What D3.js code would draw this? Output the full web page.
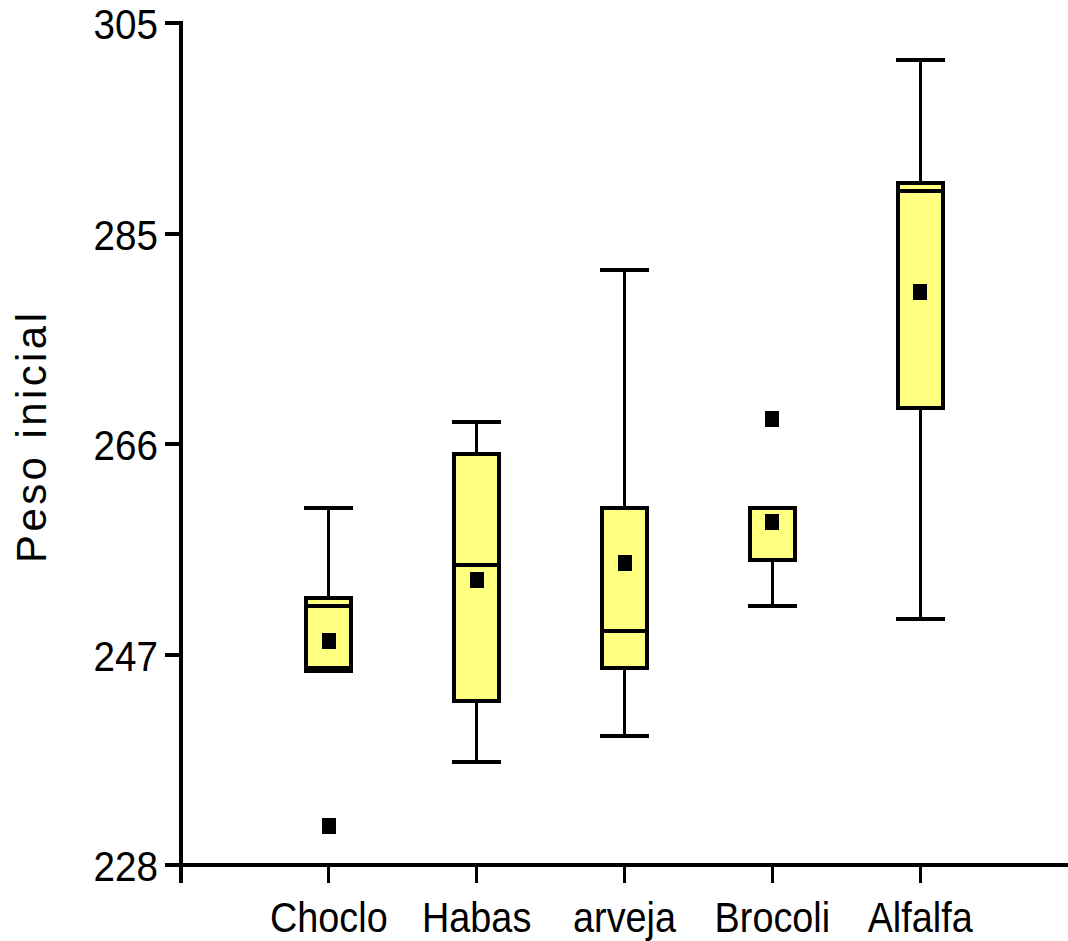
<!DOCTYPE html>
<html>
<head>
<meta charset="utf-8">
<script src="https://cdn.jsdelivr.net/npm/d3@7"></script>
<style>
  html, body { margin: 0; padding: 0; background: #fff; }
  svg { display: block; }
  text { font-family: "Liberation Sans", Arial, sans-serif; fill: #000; }
  line, rect { shape-rendering: crispEdges; }
</style>
</head>
<body>
<svg id="chart" width="1068" height="941"></svg>
<script>
// Box plot summary per crop: whisker ends, quartiles, median, mean, outliers
const categories = ["Choclo", "Habas", "arveja", "Brocoli", "Alfalfa"];
const whiskerHigh = [260.65, 268.5, 282.4, 260.65, 301.6];
const q3Values    = [252.4, 265.55, 260.65, 260.65, 290.35];
const medians     = [251.7, 255.45, 249.4, 260.65, 289.65];
const q1Values    = [246.0, 243.0, 246.05, 255.85, 269.75];
const whiskerLow  = [245.75, 237.4, 239.8, 251.7, 250.5];
const means       = [248.5, 254.1, 255.6, 259.4, 280.4];
const outliers    = [[0, 231.6], [3, 268.75]];   // [category index, value]
const yTickValues = [228, 247.25, 266.5, 285.75, 305];
const yTitle = "Peso inicial";

const svg = d3.select("#chart");

const y = d3.scaleLinear().domain([228, 305]).range([865, 23]);
// categories sit at positions 1..5, axis runs from 0 to 6
const x = d3.scaleLinear().domain([0, 6]).range([181, 1068]);

const boxHalf = 22.5;
const capHalf = 24.5;
const black = "#000";
const fill = "#ffff80";

const rows = categories.map((c, i) => ({
  name: c, cx: x(i + 1),
  hi: whiskerHigh[i], q3: q3Values[i], med: medians[i],
  q1: q1Values[i], lo: whiskerLow[i], mean: means[i]
}));

const g = svg.append("g");

// whisker stems
g.selectAll(".stem-hi").data(rows).enter().append("line")
  .attr("x1", d => d.cx).attr("x2", d => d.cx)
  .attr("y1", d => y(d.hi)).attr("y2", d => y(d.q3))
  .attr("stroke", black).attr("stroke-width", 3);
g.selectAll(".stem-lo").data(rows).enter().append("line")
  .attr("x1", d => d.cx).attr("x2", d => d.cx)
  .attr("y1", d => y(d.q1)).attr("y2", d => y(d.lo))
  .attr("stroke", black).attr("stroke-width", 3);

// boxes
g.selectAll(".box").data(rows).enter().append("rect")
  .attr("x", d => d.cx - boxHalf).attr("width", boxHalf * 2)
  .attr("y", d => y(d.q3)).attr("height", d => y(d.q1) - y(d.q3))
  .attr("fill", fill).attr("stroke", black).attr("stroke-width", 4);

// medians
g.selectAll(".median").data(rows).enter().append("line")
  .attr("x1", d => d.cx - boxHalf).attr("x2", d => d.cx + boxHalf)
  .attr("y1", d => y(d.med)).attr("y2", d => y(d.med))
  .attr("stroke", black).attr("stroke-width", 4);

// whisker caps
["hi", "lo"].forEach(k => {
  g.selectAll(".cap-" + k).data(rows).enter().append("line")
    .attr("x1", d => d.cx - capHalf).attr("x2", d => d.cx + capHalf)
    .attr("y1", d => y(d[k])).attr("y2", d => y(d[k]))
    .attr("stroke", black).attr("stroke-width", 4);
});

// means
g.selectAll(".mean").data(rows).enter().append("rect")
  .attr("x", d => d.cx - 7).attr("width", 14)
  .attr("y", d => y(d.mean) - 8).attr("height", 16)
  .attr("fill", black);

// outliers
g.selectAll(".outlier").data(outliers).enter().append("rect")
  .attr("x", d => x(d[0] + 1) - 7).attr("width", 14)
  .attr("y", d => y(d[1]) - 8).attr("height", 16)
  .attr("fill", black);

// y axis
const yAxis = svg.append("g");
yAxis.append("line")
  .attr("x1", 181).attr("x2", 181).attr("y1", 21).attr("y2", 883)
  .attr("stroke", black).attr("stroke-width", 4);
yAxis.selectAll(".ytick").data(yTickValues).enter().append("line")
  .attr("x1", 165).attr("x2", 181)
  .attr("y1", d => y(d)).attr("y2", d => y(d))
  .attr("stroke", black).attr("stroke-width", 4);
yAxis.selectAll(".ylab").data(yTickValues).enter().append("text")
  .attr("transform", d => `translate(158,${y(d) + 16}) scale(0.92,1)`)
  .attr("text-anchor", "end")
  .style("font-size", "42px")
  .text(d => Math.floor(d));

// x axis
const xAxis = svg.append("g");
xAxis.append("line")
  .attr("x1", 165).attr("x2", 1068).attr("y1", 865).attr("y2", 865)
  .attr("stroke", black).attr("stroke-width", 4);
xAxis.selectAll(".xtick").data(d3.range(0, 6)).enter().append("line")
  .attr("x1", d => x(d)).attr("x2", d => x(d))
  .attr("y1", 865).attr("y2", 883)
  .attr("stroke", black).attr("stroke-width", 3);
xAxis.selectAll(".xlab").data(categories).enter().append("text")
  .attr("transform", (d, i) => `translate(${x(i + 1)},932) scale(0.9,1)`)
  .attr("text-anchor", "middle")
  .style("font-size", "42px")
  .text(d => d);

// y title
svg.append("text")
  .attr("transform", "translate(46,438) rotate(-90)")
  .attr("text-anchor", "middle")
  .attr("textLength", 250)
  .attr("lengthAdjust", "spacing")
  .style("font-size", "42px")
  .text(yTitle);
</script>
</body>
</html>
